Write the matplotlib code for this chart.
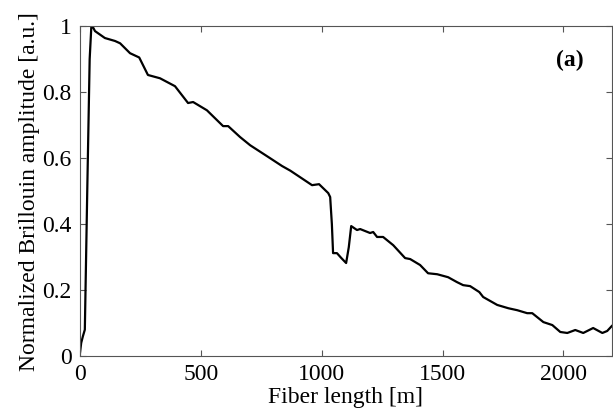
import numpy as np
import matplotlib
matplotlib.use("Agg")
from matplotlib import pyplot as plt

# fiber position [m] and normalized Brillouin amplitude
length = [0, 5, 12, 20, 30, 40, 47, 55, 62, 103, 145, 166, 207, 245, 281, 331,
          393, 447, 468, 525, 592, 613, 662, 704, 786, 836, 870, 911, 960, 989,
          1027, 1035, 1042, 1047, 1063, 1080, 1101, 1112, 1122, 1146, 1159, 1200,
          1213, 1229, 1254, 1296, 1345, 1366, 1407, 1440, 1478, 1523, 1560,
          1585, 1614, 1652, 1668, 1726, 1772, 1809, 1850, 1871, 1917, 1954,
          1987, 2016, 2049, 2082, 2123, 2161, 2181, 2200]
amplitude = [0.01, 0.04, 0.06, 0.08, 0.50, 0.90, 1.00, 0.995, 0.985, 0.964,
             0.955, 0.948, 0.918, 0.905, 0.852, 0.842, 0.818, 0.767, 0.770,
             0.745, 0.697, 0.697, 0.664, 0.639, 0.600, 0.576, 0.562, 0.542,
             0.518, 0.521, 0.494, 0.482, 0.40, 0.312, 0.312, 0.298, 0.282,
             0.33, 0.394, 0.382, 0.385, 0.373, 0.376, 0.361, 0.361, 0.336,
             0.297, 0.294, 0.276, 0.251, 0.248, 0.239, 0.224, 0.215, 0.212,
             0.194, 0.179, 0.155, 0.145, 0.139, 0.130, 0.130, 0.103, 0.094,
             0.073, 0.070, 0.079, 0.070, 0.085, 0.070, 0.076, 0.091]

plt.rcParams['font.family'] = ['Liberation Serif', 'DejaVu Serif']

fig = plt.figure(figsize=(6.13, 4.15), dpi=100)
ax = fig.add_axes([0.1305, 0.142, 0.8675, 0.795])
ax.plot(length, amplitude, color='black', lw=1.6)

ax.set_xlim(0, 2200)
ax.set_ylim(0, 1)
ax.set_xticks([0, 500, 1000, 1500, 2000])
ax.set_yticks([0, 0.2, 0.4, 0.6, 0.8, 1])
ax.set_yticklabels(['0', '0.2', '0.4', '0.6', '0.8', '1'])
ax.tick_params(direction='in', top=True, right=True, labelsize=17, length=4,
               color='#555555')
ax.tick_params(axis='x', pad=6)
ax.tick_params(axis='y', pad=6)
for s in ax.spines.values():
    s.set_color('#555555')
    s.set_linewidth(0.8)

ax.set_xlabel('Fiber length [m]', fontsize=17, labelpad=1)
ax.set_ylabel('Normalized Brillouin amplitude [a.u.]', fontsize=17, labelpad=2)
ax.text(2028, 0.897, '(a)', fontsize=17, fontweight='bold', ha='center', va='center')

fig.savefig('out.png', dpi=100)
